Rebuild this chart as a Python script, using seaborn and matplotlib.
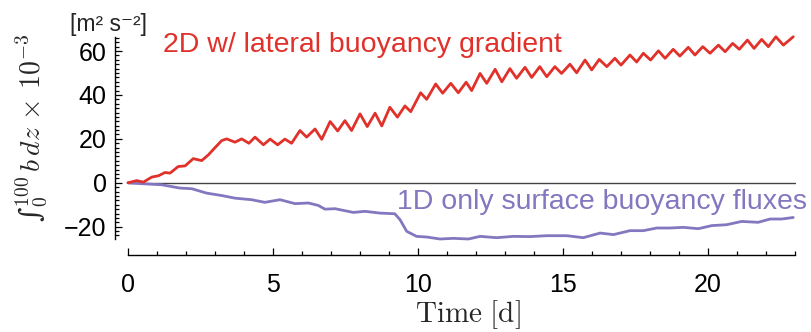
import numpy as np
import pandas as pd
import matplotlib
matplotlib.use("Agg")
import matplotlib.pyplot as plt
from matplotlib.ticker import MultipleLocator
import seaborn as sns

# ---- data ----
t_2d = [0, 0.3, 0.53, 0.82, 1.05, 1.28, 1.45, 1.73, 1.97, 2.25,
        2.54, 2.77, 3.0, 3.23, 3.4, 3.69, 3.92, 4.17, 4.38, 4.67,
        4.9, 5.16, 5.41, 5.64, 5.93, 6.16, 6.45, 6.68, 6.97, 7.23,
        7.48, 7.71, 8.0, 8.25, 8.52, 8.75, 9.03, 9.29, 9.55, 9.75,
        10.09, 10.3, 10.61, 10.85, 11.13, 11.39, 11.66, 11.85, 12.14, 12.37,
        12.66, 12.89, 13.17, 13.4, 13.69, 13.92, 14.2, 14.44, 14.72, 14.95,
        15.24, 15.47, 15.76, 15.99, 16.25, 16.51, 16.79, 17.0, 17.31, 17.54,
        17.77, 18.02, 18.29, 18.52, 18.8, 19.03, 19.32, 19.55, 19.82, 20.07,
        20.36, 20.59, 20.85, 21.08, 21.36, 21.59, 21.85, 22.08, 22.34, 22.6,
        22.94]
v_2d = [0, 1, 0.3, 2.6, 3.2, 4.7, 4.4, 7.4, 7.7, 11,
        10.1, 12.7, 16, 19.2, 20, 18.5, 20, 18, 20.8, 17.3,
        19.9, 17.3, 19.9, 18, 23.8, 20.8, 24.5, 19.8, 27.9, 23.6,
        28.3, 23.8, 31.4, 25.6, 31.7, 25.9, 34.4, 29.9, 35, 32.4,
        41, 38, 45, 40.8, 45.3, 41, 45.8, 42, 49.8, 45.3,
        51.7, 46, 52, 47.6, 52.6, 48, 52.9, 48.3, 52.9, 49.8,
        54, 50.1, 55.9, 51.4, 56.2, 52.9, 56.7, 53.6, 58.2, 55,
        59, 55.9, 60.1, 56.7, 60.8, 57.7, 61.7, 58.2, 62, 59,
        62.7, 59.7, 63.5, 60.8, 65, 61.2, 65.3, 62, 66.5, 62.7,
        66.5]

t_1d = [0, 0.59, 1.16, 1.79, 2.2, 2.71, 3.23, 3.69, 4.26, 4.72,
        5.24, 5.76, 6.22, 6.56, 6.79, 7.14, 7.77, 8.17, 8.69, 9.2,
        9.38, 9.61, 9.95, 10.3, 10.76, 11.22, 11.74, 12.14, 12.71, 13.29,
        13.86, 14.44, 15.13, 15.7, 16.28, 16.74, 17.31, 17.77, 18.23, 18.69,
        19.15, 19.67, 20.13, 20.64, 21.16, 21.73, 22.14, 22.54, 22.94]
v_1d = [0, -0.5, -0.9, -2.4, -2.7, -4.7, -5.8, -7, -7.7, -8.9,
        -7.7, -9.5, -9.2, -10.3, -12, -11.8, -13.5, -13, -13.8, -14.1,
        -16.8, -22.1, -24.4, -24.7, -25.6, -25.3, -25.6, -24.4, -25, -24.4,
        -24.5, -24.1, -24.1, -25, -22.9, -23.6, -21.8, -21.8, -20.6, -20.6,
        -20.3, -20.9, -19.5, -19.1, -17.6, -18, -16.5, -16.5, -15.8]

label_2d = "2D w/ lateral buoyancy gradient"
label_1d = "1D only surface buoyancy fluxes"
x_ticks = [0, 5, 10, 15, 20]
y_ticks = [-20, 0, 20, 40, 60]

# ---- style ----
sns.set_style("ticks")
plt.rcParams["font.family"] = ["Liberation Sans", "DejaVu Sans"]
plt.rcParams["mathtext.fontset"] = "cm"

RED = "#e0312b"
PURPLE = "#8477bf"

df2 = pd.DataFrame({"t": t_2d, "v": v_2d})
df1 = pd.DataFrame({"t": t_1d, "v": v_1d})

fig = plt.figure(figsize=(8.11, 3.32), dpi=100)
ax = fig.add_axes([128 / 811, 1 - 239 / 332, 667 / 811, 202 / 332])

ax.axhline(0, color="#444444", lw=1.0, zorder=1)
sns.lineplot(data=df2, x="t", y="v", ax=ax, color=RED, lw=2.0,
             estimator=None, sort=False, zorder=3)
sns.lineplot(data=df1, x="t", y="v", ax=ax, color=PURPLE, lw=2.0,
             estimator=None, sort=False, zorder=2)
for l in ax.get_lines():
    l.set_solid_joinstyle("round")
    l.set_solid_capstyle("round")
    l.set_clip_on(False)

ax.set_xlim(0, 23)
ax.set_ylim(-25.6, 66.4)
ax.set_xticks(x_ticks)
ax.set_yticks(y_ticks)
ax.set_yticklabels(["\u221220" if v < 0 else str(v) for v in y_ticks])
ax.xaxis.set_minor_locator(MultipleLocator(1))
ax.yaxis.set_minor_locator(MultipleLocator(2))
ax.tick_params(which="both", direction="in", width=0.9, colors="black",
               labelsize=18)
ax.tick_params(which="major", length=5)
ax.tick_params(which="minor", length=3)
ax.tick_params(axis="x", pad=13)
ax.tick_params(axis="y", pad=6)
ax.set_xlabel("")
ax.set_ylabel("")

sns.despine(ax=ax, offset=dict(left=9.4, bottom=11.5))
for s in ("left", "bottom"):
    ax.spines[s].set_linewidth(1.0)
    ax.spines[s].set_color("black")

ax.text(1.2, 59.5, label_2d, color=RED, fontsize=20.5, ha="left", va="baseline")
ax.text(9.28, -11.9, label_1d, color=PURPLE, fontsize=20.5, ha="left", va="baseline")

fig.text(70 / 811, 1 - 31 / 332, "[m\u00b2 s\u207b\u00b2]", fontsize=16.5,
         ha="left", va="baseline")
fig.text(31 / 811, 1 - 128 / 332, "\u222b" + r"${}_0^{100}\,b\,dz\,\times\,10^{-3}$",
         rotation=90, fontsize=20, ha="center", va="center",
         family=["DejaVu Serif"])
fig.text(468 / 811, 1 - 322 / 332, r"$\mathrm{Time}\ [\mathrm{d}]$",
         fontsize=21, ha="center", va="baseline")

fig.savefig("out.png", dpi=100)
